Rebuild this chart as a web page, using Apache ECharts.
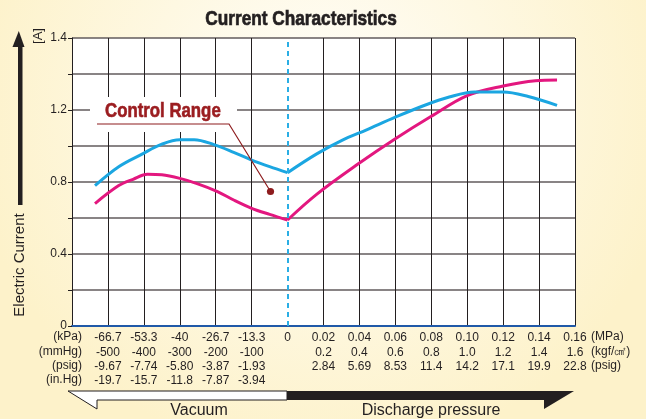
<!DOCTYPE html>
<html>
<head>
<meta charset="utf-8">
<script src="https://cdn.jsdelivr.net/npm/echarts@6/dist/echarts.min.js"></script>
<style>
html,body{margin:0;padding:0;}
#chart{width:646px;height:419px;}
</style>
</head>
<body>
<div id="chart"></div>
<script>
// ---- data (x = grid slot: 0 = -80 kPa, 6 = 0, 14 = 0.16 MPa) ----
const blueX = [0.64, 1.3, 1.95, 2.5, 3.0, 3.4, 3.95, 4.5, 5.0, 5.5, 6.0, 6.8, 7.5, 8.2, 9.0, 9.8, 10.5, 11.2, 12.0, 12.7, 13.5];
const blueY = [0.78, 0.885, 0.955, 1.01, 1.035, 1.035, 1.008, 0.965, 0.922, 0.885, 0.852, 0.955, 1.03, 1.09, 1.16, 1.225, 1.272, 1.3, 1.3, 1.275, 1.226];
const pinkX = [0.64, 1.3, 1.7, 2.1, 2.5, 3.0, 3.5, 4.05, 4.5, 5.0, 5.5, 6.0, 6.8, 8.0, 9.0, 10.0, 11.0, 12.0, 12.9, 13.5];
const pinkY = [0.68, 0.78, 0.815, 0.843, 0.84, 0.82, 0.79, 0.747, 0.70, 0.654, 0.62, 0.589, 0.73, 0.905, 1.04, 1.165, 1.28, 1.333, 1.363, 1.367];

const kPaLabels = ['-66.7', '-53.3', '-40', '-26.7', '-13.3'];
const mmHgLabels = ['-500', '-400', '-300', '-200', '-100'];
const psigVacLabels = ['-9.67', '-7.74', '-5.80', '-3.87', '-1.93'];
const inHgLabels = ['-19.7', '-15.7', '-11.8', '-7.87', '-3.94'];
const mpaLabels = ['0.02', '0.04', '0.06', '0.08', '0.10', '0.12', '0.14', '0.16'];
const kgfLabels = ['0.2', '0.4', '0.6', '0.8', '1.0', '1.2', '1.4', '1.6'];
const psigLabels = ['2.84', '5.69', '8.53', '11.4', '14.2', '17.1', '19.9', '22.8'];
const yTickLabels = ['0', '', '0.4', '', '0.8', '', '1.2', '', '1.4'];
const zeroSlot = 6;

const FONT = "'Liberation Sans', Arial, sans-serif";
const DARK = '#231f20';

function split(xs, ys) {
  const left = [], right = [];
  xs.forEach((x, i) => {
    if (x <= zeroSlot) left.push([x, ys[i]]);
    if (x >= zeroSlot) right.push([x, ys[i]]);
  });
  return [left, right];
}
const [blueL, blueR] = split(blueX, blueY);
const [pinkL, pinkR] = split(pinkX, pinkY);

const BLUE = '#1ba6e1';
const PINK = '#e3177f';

const vColors = [];
for (let i = 0; i <= 14; i++) vColors.push(i === zeroSlot ? 'rgba(0,0,0,0)' : DARK);

function lineSeries(data, color, extra) {
  return Object.assign({
    type: 'line', data: data, smooth: 0.35, showSymbol: false, symbol: 'none',
    lineStyle: { color: color, width: 3 }, z: 3, silent: true
  }, extra || {});
}

const chart = echarts.init(document.getElementById('chart'), null, { renderer: 'canvas' });
chart.setOption({
  animation: false,
  backgroundColor: {
    type: 'radial', x: 0.5, y: 0.25, r: 0.85,
    colorStops: [{ offset: 0, color: '#fffefa' }, { offset: 1, color: '#fdf2ca' }]
  },
  grid: { left: 72, right: 71, top: 38, bottom: 93, show: true, backgroundColor: '#ffffff', borderWidth: 0 },
  xAxis: {
    type: 'value', min: 0, max: 14, interval: 1,
    axisLine: { show: true, onZero: false, lineStyle: { color: '#2059a8', width: 2 } },
    axisTick: { show: false },
    splitLine: { show: true, lineStyle: { color: vColors, width: 1 } },
    axisLabel: {
      margin: 5, fontSize: 12, lineHeight: 14.3, color: DARK, fontFamily: FONT, verticalAlign: 'top',
      formatter: function (v) {
        const i = Math.round(v);
        if (i >= 1 && i <= 5) return [kPaLabels[i - 1], mmHgLabels[i - 1], psigVacLabels[i - 1], inHgLabels[i - 1]].join('\n');
        if (i === zeroSlot) return '0';
        if (i > zeroSlot) { const k = i - zeroSlot - 1; return [mpaLabels[k], kgfLabels[k], psigLabels[k]].join('\n'); }
        return '';
      }
    }
  },
  yAxis: {
    type: 'value', min: 0, max: 1.6, interval: 0.2,
    axisLine: { show: true, lineStyle: { color: DARK, width: 1 } },
    axisTick: { show: true, length: 4, lineStyle: { color: DARK } },
    splitLine: { show: true, lineStyle: { color: '#625b5d', width: 1.5 } },
    axisLabel: {
      margin: 5, fontSize: 12, color: DARK, fontFamily: FONT,
      formatter: function (v) { return yTickLabels[Math.round(v / 0.2)] || ''; }
    }
  },
  series: [
    lineSeries(pinkL, PINK),
    lineSeries(pinkR, PINK),
    lineSeries(blueL, BLUE),
    lineSeries(blueR, BLUE, {
      markLine: {
        silent: true, symbol: 'none', label: { show: false },
        lineStyle: { color: '#2aaee5', type: [5, 4], width: 2 },
        data: [{ xAxis: zeroSlot }]
      }
    })
  ],
  graphic: [
    { type: 'text', x: 301, y: 19, scaleX: 0.82, z: 10,
      style: { text: 'Current Characteristics', font: 'bold 21px ' + FONT, fill: DARK, stroke: DARK, lineWidth: 0.7, align: 'center', verticalAlign: 'middle' } },
    { type: 'rect', shape: { x: 90, y: 97, width: 147, height: 35 }, style: { fill: '#ffffff' }, z: 1 },
    { type: 'text', x: 105, y: 111, scaleX: 0.84, z: 10,
      style: { text: 'Control Range', font: 'bold 20px ' + FONT, fill: '#9b1d20', stroke: '#9b1d20', lineWidth: 0.6, align: 'left', verticalAlign: 'middle' } },
    { type: 'polyline', shape: { points: [[97, 124], [229, 124], [270.5, 191.5]] }, style: { stroke: '#8e1c1e', lineWidth: 1.2, fill: null }, z: 10 },
    { type: 'circle', shape: { cx: 270.5, cy: 191.5, r: 3.6 }, style: { fill: '#8e1c1e' }, z: 10 },
    // y axis arrow + title
    { type: 'polygon', shape: { points: [[18.8, 31], [12.5, 47], [24.5, 47]] }, style: { fill: DARK }, z: 10 },
    { type: 'rect', shape: { x: 18, y: 45, width: 4.5, height: 160 }, style: { fill: DARK }, z: 10 },
    { type: 'text', x: 20, y: 265, rotation: Math.PI / 2, z: 10,
      style: { text: 'Electric Current', font: '15px ' + FONT, fill: DARK, align: 'center', verticalAlign: 'middle' } },
    { type: 'text', x: 38, y: 36, rotation: Math.PI / 2, z: 10,
      style: { text: '[A]', font: '13px ' + FONT, fill: DARK, align: 'center', verticalAlign: 'middle' } },
    // unit labels
    { type: 'text', x: 82, y: 330, z: 10,
      style: { text: '(kPa)\n(mmHg)\n(psig)\n(in.Hg)', font: '12px ' + FONT, lineHeight: 14.3, fill: DARK, align: 'right', verticalAlign: 'top' } },
    { type: 'text', x: 591, y: 330, z: 10,
      style: { text: '(MPa)\n(kgf/㎠)\n(psig)', font: '12px ' + FONT, lineHeight: 14.3, fill: DARK, align: 'left', verticalAlign: 'top' } },
    // bottom arrows
    { type: 'polygon', shape: { points: [[68, 391], [287, 391], [287, 400], [97, 400], [97, 409]] }, style: { fill: '#ffffff', stroke: DARK, lineWidth: 1 }, z: 10 },
    { type: 'polygon', shape: { points: [[287, 391], [574, 391], [544, 409], [544, 400], [287, 400]] }, style: { fill: DARK }, z: 10 },
    { type: 'text', x: 199, y: 411, z: 10,
      style: { text: 'Vacuum', font: '16px ' + FONT, fill: DARK, align: 'center', verticalAlign: 'middle' } },
    { type: 'text', x: 431, y: 411, z: 10,
      style: { text: 'Discharge pressure', font: '16px ' + FONT, fill: DARK, align: 'center', verticalAlign: 'middle' } }
  ]
});
</script>
</body>
</html>
